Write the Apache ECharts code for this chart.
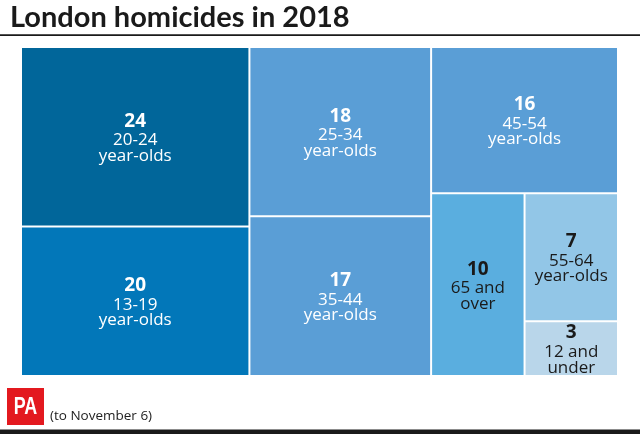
<!DOCTYPE html>
<html>
<head>
<meta charset="utf-8">
<script src="https://cdn.jsdelivr.net/npm/echarts@6/dist/echarts.min.js"></script>
<style>
html,body{margin:0;padding:0;background:#fff;}
#chart{width:640px;height:434px;}
</style>
</head>
<body>
<div id="chart"></div>
<script>
const values = [24, 20, 18, 17, 16, 10, 7, 3];
const groups = ['20-24\nyear-olds', '13-19\nyear-olds', '25-34\nyear-olds', '35-44\nyear-olds', '45-54\nyear-olds', '65 and\nover', '55-64\nyear-olds', '12 and\nunder'];
const colors = ['#01669a', '#0277b9', '#5a9ed6', '#5a9ed6', '#5a9ed6', '#5aaedf', '#92c6e7', '#b9d6ea'];
const labelColors = ['#ffffff', '#ffffff', '#ffffff', '#ffffff', '#ffffff', '#1a1a1a', '#1a1a1a', '#1a1a1a'];

const FONT = 'Open Sans';
const data = values.map((v, i) => ({
  name: groups[i],
  value: v,
  itemStyle: { color: colors[i] },
  label: { color: labelColors[i] }
}));

const chart = echarts.init(document.getElementById('chart'), null, { renderer: 'canvas' });
chart.setOption({
  animation: false,
  backgroundColor: '#ffffff',
  title: {
    text: 'London homicides in 2018',
    left: 10, top: 3, padding: 0,
    textStyle: { fontFamily: 'Lato', fontWeight: 'bold', fontSize: 29, color: '#1a1a1a' }
  },
  graphic: [
    { type: 'rect', shape: { x: 0, y: 34.2, width: 640, height: 1.8 }, style: { fill: '#1a1a1a' } },
    { type: 'rect', shape: { x: 0, y: 429.5, width: 640, height: 4.5 }, style: { fill: '#1a1a1a' } },
    { type: 'rect', shape: { x: 7, y: 388, width: 37, height: 37 }, style: { fill: '#e3191f' } },
    { type: 'text', x: 25.5, y: 407.5, scaleX: 0.78, style: { text: 'PA', fill: '#ffffff', font: 'bold 23px "Liberation Sans Narrow", "Liberation Sans", sans-serif', align: 'center', verticalAlign: 'middle' } },
    { type: 'text', x: 50, y: 416.5, style: { text: '(to November 6)', fill: '#222222', font: '13.5px "Open Sans", sans-serif', align: 'left', verticalAlign: 'middle' } }
  ],
  series: [{
    type: 'treemap',
    left: 22, top: 48, width: 595, height: 327,
    roam: false,
    nodeClick: false,
    sort: false,
    squareRatio: 1,
    breadcrumb: { show: false },
    itemStyle: { borderWidth: 0, gapWidth: 2, borderColor: '#ffffff' },
    emphasis: { disabled: true },
    label: {
      show: true,
      position: ['50%', '50%'],
      align: 'center',
      verticalAlign: 'top',
      offset: [0, -27],
      padding: [0, 0, -30, 0],
      formatter: function (p) {
        const lines = p.name.split('\n');
        return '{v|' + p.value + '}\n' + lines.map(l => '{n|' + l + '}').join('\n');
      },
      rich: {
        v: { fontFamily: FONT, fontWeight: 'bold', fontSize: 19, lineHeight: 23, align: 'center' },
        n: { fontFamily: FONT, fontSize: 17, lineHeight: 15.5, align: 'center' }
      }
    },
    data: data
  }]
});
</script>
</body>
</html>
